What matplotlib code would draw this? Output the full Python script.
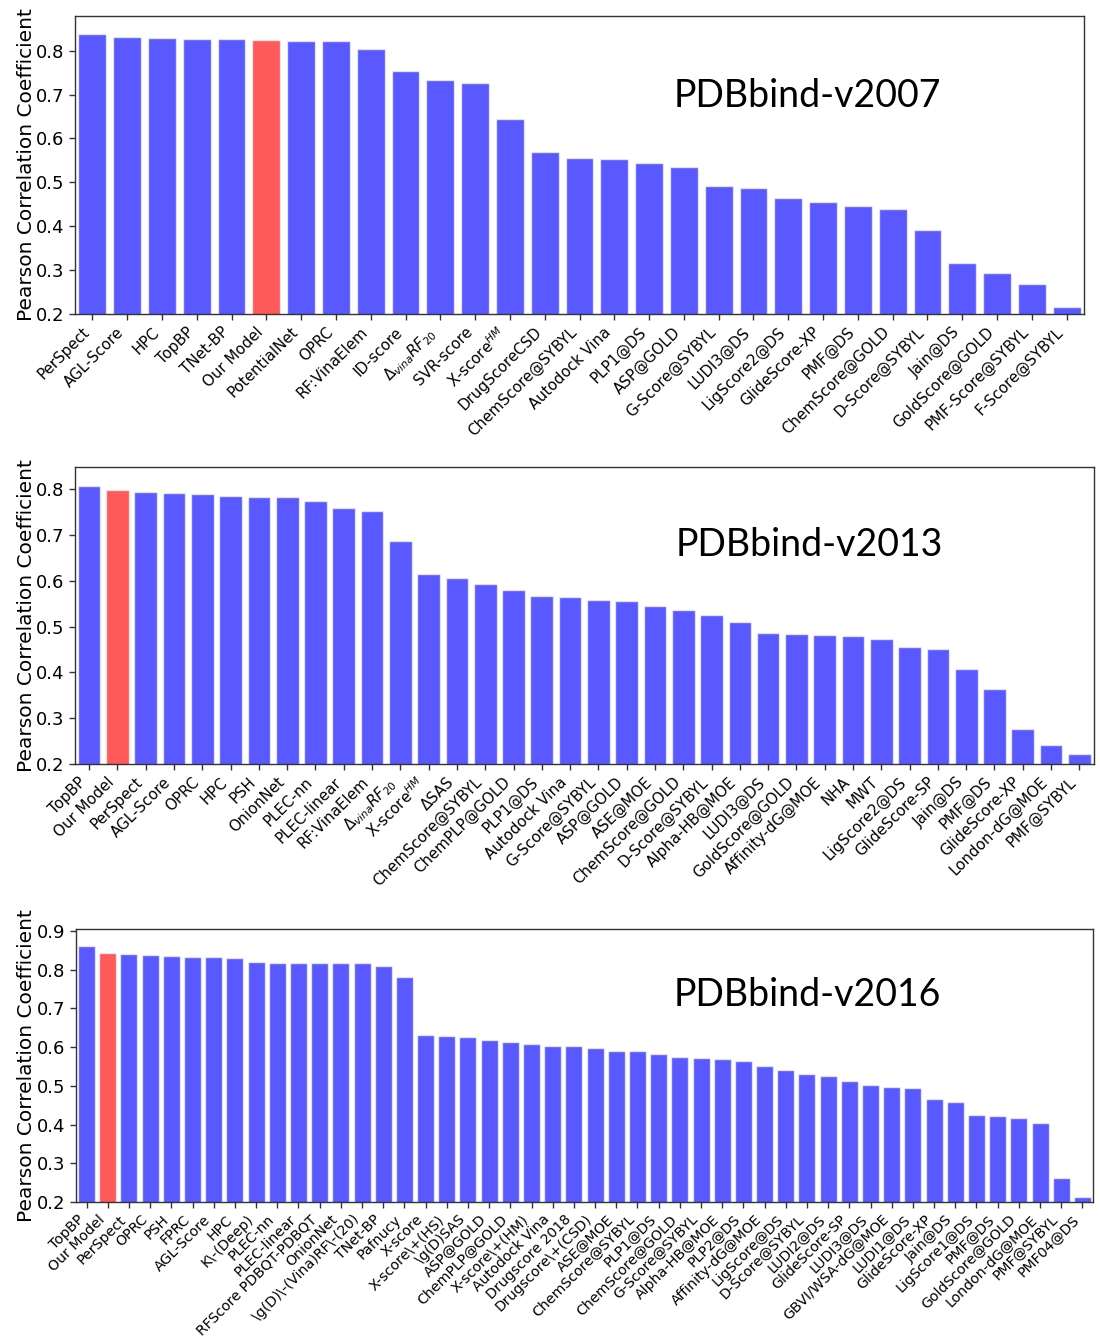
import numpy as np
import matplotlib
matplotlib.use("Agg")
import matplotlib.pyplot as plt

# ---- PDBbind-v2007 core set ----
labels_2007 = [
    "PerSpect", "AGL-Score", "HPC", "TopBP", "TNet-BP", "Our Model", "PotentialNet",
    "OPRC", "RF:VinaElem", "ID-score", r"$\Delta_{vina}RF_{20}$", "SVR-score",
    r"X-score$^{HM}$", "DrugScoreCSD", "ChemScore@SYBYL", "Autodock Vina", "PLP1@DS",
    "ASP@GOLD", "G-Score@SYBYL", "LUDI3@DS", "LigScore2@DS", "GlideScore-XP", "PMF@DS",
    "ChemScore@GOLD", "D-Score@SYBYL", "Jain@DS", "GoldScore@GOLD", "PMF-Score@SYBYL",
    "F-Score@SYBYL",
]
pcc_2007 = [
    0.837, 0.830, 0.829, 0.827, 0.826, 0.824, 0.822, 0.821, 0.803, 0.754, 0.732, 0.726,
    0.644, 0.569, 0.555, 0.553, 0.545, 0.534, 0.492, 0.487, 0.464, 0.456, 0.445, 0.440,
    0.392, 0.316, 0.294, 0.268, 0.215,
]

# ---- PDBbind-v2013 core set ----
labels_2013 = [
    "TopBP", "Our Model", "PerSpect", "AGL-Score", "OPRC", "HPC", "PSH", "OnionNet",
    "PLEC-nn", "PLEC-linear", "RF:VinaElem", r"$\Delta_{vina}RF_{20}$", r"X-score$^{HM}$",
    "ΔSAS", "ChemScore@SYBYL", "ChemPLP@GOLD", "PLP1@DS", "Autodock Vina", "G-Score@SYBYL",
    "ASP@GOLD", "ASE@MOE", "ChemScore@GOLD", "D-Score@SYBYL", "Alpha-HB@MOE", "LUDI3@DS",
    "GoldScore@GOLD", "Affinity-dG@MOE", "NHA", "MWT", "LigScore2@DS", "GlideScore-SP",
    "Jain@DS", "PMF@DS", "GlideScore-XP", "London-dG@MOE", "PMF@SYBYL",
]
pcc_2013 = [
    0.808, 0.799, 0.793, 0.792, 0.789, 0.784, 0.783, 0.782, 0.775, 0.758, 0.752, 0.686,
    0.615, 0.606, 0.592, 0.579, 0.567, 0.564, 0.558, 0.556, 0.544, 0.536, 0.526, 0.511,
    0.487, 0.483, 0.482, 0.479, 0.473, 0.456, 0.452, 0.408, 0.364, 0.276, 0.241, 0.221,
]

# ---- PDBbind-v2016 core set ----
labels_2016 = [
    "TopBP", "Our Model", "PerSpect", "OPRC", "PSH", "FPRC", "AGL-Score", "HPC",
    r"K\-(Deep)", "PLEC-nn", "PLEC-linear", "RFScore PDBQT-PDBQT", "OnionNet",
    r"\g(D)\-(Vina)RF\-(20)", "TNet-BP", "Pafnucy", "X-score", r"X-score\+(HS)",
    r"\g(D)SAS", "ASP@GOLD", "ChemPLP@GOLD", r"X-score\+(HM)", "Autodock Vina",
    "Drugscore 2018", r"Drugscore\+(CSD)", "ASE@MOE", "ChemScore@SYBYL", "PLP1@DS",
    "ChemScore@GOLD", "G-Score@SYBYL", "Alpha-HB@MOE", "PLP2@DS", "Affinity-dG@MOE",
    "LigScore@DS", "D-Score@SYBYL", "LUDI2@DS", "GlideScore-SP", "LUDI3@DS",
    "GBVI/WSA-dG@MOE", "LUDI1@DS", "GlideScore-XP", "Jain@DS", "LigScore1@DS", "PMF@DS",
    "GoldScore@GOLD", "London-dG@MOE", "PMF@SYBYL", "PMF04@DS",
]
pcc_2016 = [
    0.862, 0.843, 0.840, 0.837, 0.835, 0.834, 0.832, 0.831, 0.820, 0.818, 0.817, 0.816,
    0.816, 0.816, 0.810, 0.780, 0.631, 0.629, 0.625, 0.618, 0.614, 0.609, 0.604, 0.602,
    0.597, 0.591, 0.589, 0.581, 0.575, 0.572, 0.569, 0.563, 0.552, 0.540, 0.531, 0.526,
    0.513, 0.502, 0.496, 0.494, 0.467, 0.457, 0.425, 0.422, 0.416, 0.405, 0.263, 0.212,
]

titles = ["PDBbind-v2007", "PDBbind-v2013", "PDBbind-v2016"]
highlight = "Our Model"

W, H = 1100, 1340
fig = plt.figure(figsize=(W / 100, H / 100), dpi=100)

# panel boxes in pixels: left, right, top, bottom; title centre in axes fraction;
# x tick label size
panels = [
    (labels_2007, pcc_2007, titles[0], (75, 1084, 16, 314), (0.726, 0.732), 10.8),
    (labels_2013, pcc_2013, titles[1], (75, 1093.5, 467, 764), (0.721, 0.737), 10.8),
    (labels_2016, pcc_2016, titles[2], (76, 1093, 929, 1202), (0.719, 0.758), 10.2),
]

for labels, vals, title, (l, r, t, b), (tx, ty), xfs in panels:
    ax = fig.add_axes([l / W, 1 - b / H, (r - l) / W, (b - t) / H])
    x = np.arange(len(vals))
    colors = ["red" if lab == highlight else "blue" for lab in labels]
    ax.bar(x, vals, width=0.8, color=colors, alpha=0.65, edgecolor="white", linewidth=1)
    ax.set_xlim(-0.5, len(vals) - 0.5)
    top = max(vals) * 1.05
    ax.set_ylim(0.2, top)
    yt = np.round(np.arange(0.2, top + 1e-9, 0.1), 1)
    ax.set_yticks(yt)
    ax.set_yticklabels([f"{v:.1f}" for v in yt], fontsize=13)
    ax.set_xticks(x)
    ax.set_xticklabels(labels, rotation=45, ha="right", fontsize=xfs)
    ax.tick_params(axis="both", length=4, width=1, color="#333333")
    for s in ax.spines.values():
        s.set_color("#333333")
        s.set_linewidth(1)
    ax.set_ylabel("Pearson Correlation Coefficient", fontsize=14.5)
    ax.yaxis.set_label_coords((36 - l) / (r - l), 0.5)
    ax.text(tx, ty, title, transform=ax.transAxes, ha="center", va="center",
            fontsize=27, family="Lato", color="black")

fig.savefig("out.png", dpi=100)
